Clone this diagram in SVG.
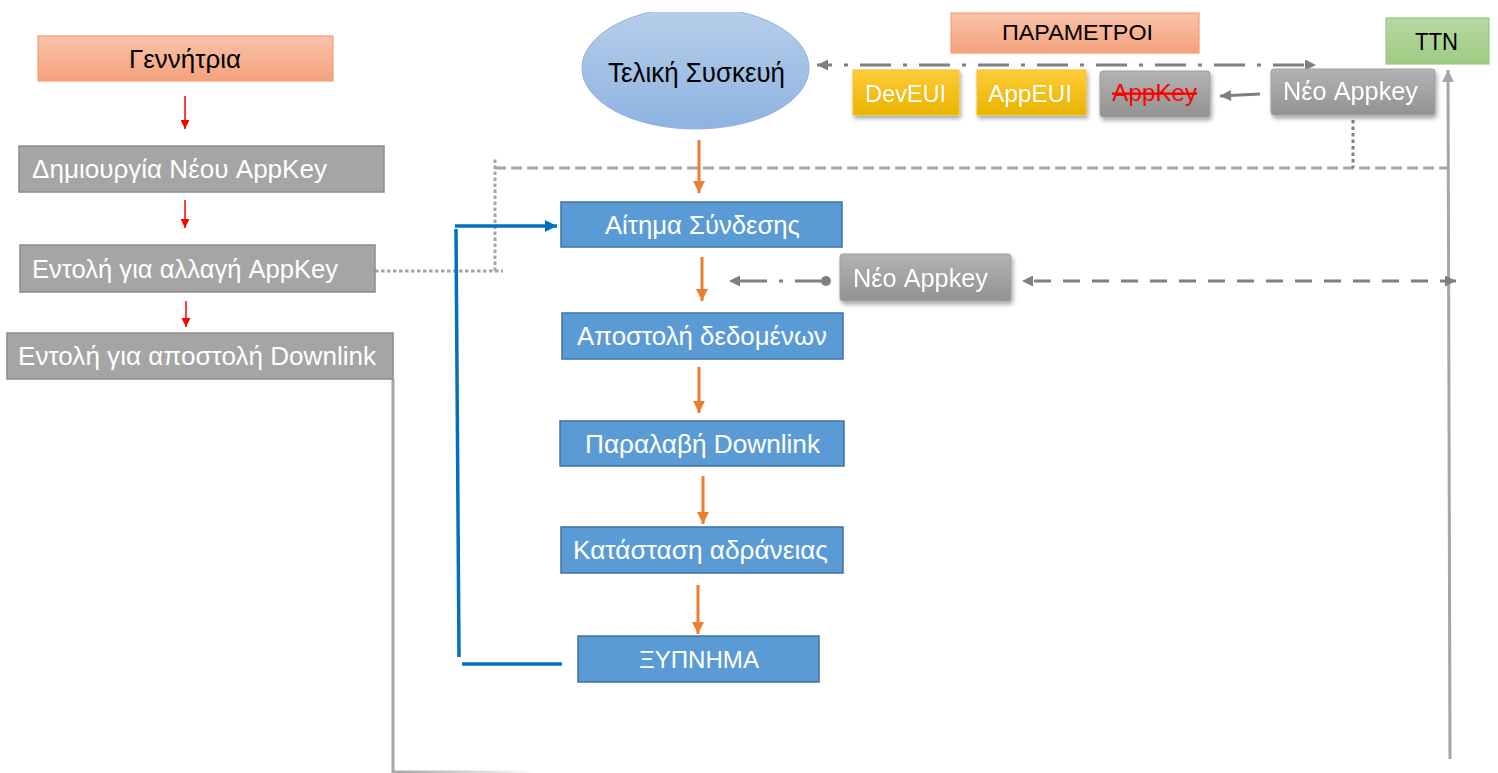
<svg xmlns="http://www.w3.org/2000/svg" width="1498" height="773" viewBox="0 0 1498 773">
  <style>
    .lbl{font-family:"Liberation Sans","Noto Sans",sans-serif;font-size:25px}
    .s22{font-size:22px}
    .s24{font-size:24px}
    .s26{font-size:26px}
    .s27{font-size:27px}
    .w{fill:#ffffff}
    .k{fill:#000000}
    .gflat{fill:#a5a5a5;stroke:#8c8c8c;stroke-width:1.5}
    .blue{fill:#5b9bd5;stroke:#41719c;stroke-width:1.5}
    .salmon{fill:url(#gSalmon);stroke:#f4a072;stroke-width:1.2}
    .yellow{fill:url(#gYellow);stroke:#f2c230;stroke-width:1}
    .gshade{fill:url(#gGray);stroke:#a0a0a0;stroke-width:1}
    .green{fill:url(#gGreen);stroke:#9bc97d;stroke-width:1.2}
    .red{stroke:#ff0000;stroke-width:1.5;fill:none}
    .orange{stroke:#ed7d31;stroke-width:3;fill:none}
    .bl{stroke:#0070c0;stroke-width:3.5;fill:none}
    .lg{stroke:#a6a6a6;stroke-width:3;fill:none}
    .dg{stroke:#7f7f7f;stroke-width:3;fill:none}
  </style>
  <defs>
    <linearGradient id="gSalmon" x1="0" y1="0" x2="0" y2="1">
      <stop offset="0" stop-color="#f8c3aa"/>
      <stop offset="1" stop-color="#f4a17c"/>
    </linearGradient>
    <linearGradient id="gYellow" x1="0" y1="0" x2="0" y2="1">
      <stop offset="0" stop-color="#ffcb38"/>
      <stop offset="1" stop-color="#e8b400"/>
    </linearGradient>
    <linearGradient id="gGray" x1="0" y1="0" x2="0" y2="1">
      <stop offset="0" stop-color="#b3b3b3"/>
      <stop offset="1" stop-color="#929292"/>
    </linearGradient>
    <linearGradient id="gGreen" x1="0" y1="0" x2="0" y2="1">
      <stop offset="0" stop-color="#b7d8a3"/>
      <stop offset="1" stop-color="#9fcb82"/>
    </linearGradient>
    <linearGradient id="gEllipse" x1="0" y1="0" x2="0" y2="1">
      <stop offset="0" stop-color="#b7cfea"/>
      <stop offset="1" stop-color="#8eb3e2"/>
    </linearGradient>
    <linearGradient id="gFade" x1="0" y1="0" x2="1" y2="0">
      <stop offset="0" stop-color="#a6a6a6"/>
      <stop offset="1" stop-color="#ffffff"/>
    </linearGradient>
    <clipPath id="clipTop">
      <rect x="0" y="12" width="1498" height="761"/>
    </clipPath>
    <filter id="shadow" x="-20%" y="-20%" width="150%" height="170%">
      <feDropShadow dx="1.5" dy="3" stdDeviation="2" flood-color="#000" flood-opacity="0.35"/>
    </filter>
    <marker id="aRed" viewBox="0 0 10 10" refX="10" refY="5" markerUnits="userSpaceOnUse" markerWidth="9" markerHeight="9" orient="auto">
      <path d="M0,0 L10,5 L0,10 z" fill="#ff0000"/>
    </marker>
    <marker id="aOrange" viewBox="0 0 10 10" refX="10" refY="5" markerUnits="userSpaceOnUse" markerWidth="12" markerHeight="12" orient="auto">
      <path d="M0,0 L10,5 L0,10 z" fill="#ed7d31"/>
    </marker>
    <marker id="aBlue" viewBox="0 0 10 10" refX="10" refY="5" markerUnits="userSpaceOnUse" markerWidth="13" markerHeight="12" orient="auto">
      <path d="M0,0 L10,5 L0,10 z" fill="#0070c0"/>
    </marker>
    <marker id="aDark" viewBox="0 0 10 10" refX="10" refY="5" markerUnits="userSpaceOnUse" markerWidth="12" markerHeight="11" orient="auto-start-reverse">
      <path d="M0,0 L10,5 L0,10 z" fill="#7f7f7f"/>
    </marker>
    <marker id="aLight" viewBox="0 0 10 10" refX="10" refY="5" markerUnits="userSpaceOnUse" markerWidth="14" markerHeight="12" orient="auto">
      <path d="M0,0 L10,5 L0,10 z" fill="#a6a6a6"/>
    </marker>
    <marker id="dotDark" viewBox="0 0 10 10" refX="5" refY="5" markerUnits="userSpaceOnUse" markerWidth="10" markerHeight="10" orient="auto">
      <circle cx="5" cy="5" r="5" fill="#7f7f7f"/>
    </marker>
  </defs>

  <!-- connectors -->
  <g id="connectors">
    <!-- generator column -->
    <line class="red" x1="185" y1="96" x2="185" y2="129" marker-end="url(#aRed)"/>
    <line class="red" x1="185" y1="200" x2="185" y2="228" marker-end="url(#aRed)"/>
    <line class="red" x1="186" y1="301" x2="186" y2="327" marker-end="url(#aRed)"/>

    <!-- downlink command line down the left side -->
    <path class="lg" d="M393,379 V773"/>
    <rect x="392" y="770.5" width="145" height="2.5" fill="url(#gFade)"/>

    <!-- AppKey change command to the network -->
    <path class="lg" d="M375,271 H503 M495,271 V158" stroke-width="3.5" stroke-dasharray="3.5 2.5"/>
    <path class="lg" d="M495,168 H1448" stroke-dasharray="11 5"/>
    <path class="dg" d="M1353,120 V168" stroke-dasharray="3.5 3"/>

    <!-- TTN uplink -->
    <line class="lg" x1="1450" y1="759" x2="1448" y2="70" stroke-width="3.5" marker-end="url(#aLight)"/>

    <!-- device state flow -->
    <line class="orange" x1="699" y1="140" x2="699" y2="193" marker-end="url(#aOrange)"/>
    <line class="orange" x1="702" y1="257" x2="702" y2="301" marker-end="url(#aOrange)"/>
    <line class="orange" x1="699" y1="367" x2="699" y2="413" marker-end="url(#aOrange)"/>
    <line class="orange" x1="703" y1="476" x2="703" y2="524" marker-end="url(#aOrange)"/>
    <line class="orange" x1="698" y1="585" x2="698" y2="634" marker-end="url(#aOrange)"/>

    <!-- wake-up loop back to join request -->
    <line class="bl" x1="462" y1="664" x2="562" y2="664"/>
    <line class="bl" x1="459" y1="657" x2="456" y2="229"/>
    <line class="bl" x1="455" y1="226" x2="557" y2="226" marker-end="url(#aBlue)"/>

    <!-- parameters exchange -->
    <line class="dg" x1="817" y1="65" x2="1316" y2="65" stroke-dasharray="31 12 4 12" stroke-dashoffset="-43" marker-start="url(#aDark)" marker-end="url(#aDark)"/>
    <line class="dg" x1="1260" y1="94" x2="1220" y2="96" marker-end="url(#aDark)"/>

    <!-- new AppKey delivered to the device -->
    <line class="dg" x1="826" y1="281" x2="729" y2="281" stroke-dasharray="31 12 4 12" marker-start="url(#dotDark)" marker-end="url(#aDark)"/>
    <line class="dg" x1="1022" y1="281" x2="1456" y2="281" stroke-dasharray="17 12" stroke-dashoffset="-12" marker-start="url(#aDark)" marker-end="url(#aDark)"/>
  </g>

  <!-- generator -->
  <g id="generator">
    <rect class="salmon" x="38" y="36" width="295" height="45"/>
    <text class="lbl k" x="129" y="68" textLength="112" lengthAdjust="spacingAndGlyphs">Γεννήτρια</text>
  </g>
  <g id="create-appkey">
    <rect class="gflat" x="19" y="146" width="365" height="46"/>
    <text class="lbl s26 w" x="32" y="178" textLength="295" lengthAdjust="spacingAndGlyphs">Δημιουργία Νέου AppKey</text>
  </g>
  <g id="change-appkey-cmd">
    <rect class="gflat" x="20" y="245" width="355" height="47"/>
    <text class="lbl s26 w" x="32" y="278" textLength="306" lengthAdjust="spacingAndGlyphs">Εντολή για αλλαγή AppKey</text>
  </g>
  <g id="downlink-cmd">
    <rect class="gflat" x="7" y="333" width="386" height="46"/>
    <text class="lbl s26 w" x="18" y="365" textLength="358" lengthAdjust="spacingAndGlyphs">Εντολή για αποστολή Downlink</text>
  </g>

  <!-- end device -->
  <g id="end-device">
    <ellipse cx="695.5" cy="68" rx="113.5" ry="61" fill="url(#gEllipse)" stroke="#8fb0dc" stroke-width="1" clip-path="url(#clipTop)"/>
    <text class="lbl s27 k" x="608" y="82" textLength="177" lengthAdjust="spacingAndGlyphs">Τελική Συσκευή</text>
  </g>

  <!-- parameters -->
  <g id="parameters">
    <rect class="salmon" x="951" y="13" width="248" height="40"/>
    <text class="lbl s22 k" x="1002" y="40" textLength="151" lengthAdjust="spacingAndGlyphs">ΠΑΡΑΜΕΤΡΟΙ</text>
  </g>
  <g id="deveui" filter="url(#shadow)">
    <rect class="yellow" x="853" y="70" width="106" height="45"/>
    <text class="lbl s24 w" x="865" y="102" textLength="81" lengthAdjust="spacingAndGlyphs">DevEUI</text>
  </g>
  <g id="appeui" filter="url(#shadow)">
    <rect class="yellow" x="977" y="70" width="109" height="45"/>
    <text class="lbl s24 w" x="988" y="102" textLength="84" lengthAdjust="spacingAndGlyphs">AppEUI</text>
  </g>
  <g id="old-appkey" filter="url(#shadow)">
    <rect class="gshade" x="1100" y="71" width="110" height="46" rx="3"/>
    <text class="lbl s24" x="1112" y="101" fill="#ff0000" text-decoration="line-through" textLength="85" lengthAdjust="spacingAndGlyphs">AppKey</text>
  </g>
  <g id="new-appkey-server" filter="url(#shadow)">
    <rect class="gshade" x="1271" y="69" width="164" height="46" rx="3"/>
    <text class="lbl w" x="1283" y="100" textLength="135" lengthAdjust="spacingAndGlyphs">Νέο Appkey</text>
  </g>

  <!-- network server -->
  <g id="ttn">
    <rect class="green" x="1386" y="18" width="103" height="46"/>
    <text class="lbl s24 k" x="1415" y="50" textLength="43" lengthAdjust="spacingAndGlyphs">TTN</text>
  </g>

  <!-- device states -->
  <g id="join-request">
    <rect class="blue" x="561" y="202" width="281" height="45"/>
    <text class="lbl w" x="605" y="234" textLength="195" lengthAdjust="spacingAndGlyphs">Αίτημα Σύνδεσης</text>
  </g>
  <g id="new-appkey-device" filter="url(#shadow)">
    <rect class="gshade" x="840" y="254" width="171" height="47" rx="3"/>
    <text class="lbl w" x="853" y="287" textLength="135" lengthAdjust="spacingAndGlyphs">Νέο Appkey</text>
  </g>
  <g id="send-data">
    <rect class="blue" x="562" y="313" width="281" height="46"/>
    <text class="lbl w" x="577" y="345" textLength="250" lengthAdjust="spacingAndGlyphs">Αποστολή δεδομένων</text>
  </g>
  <g id="receive-downlink">
    <rect class="blue" x="560" y="421" width="284" height="45"/>
    <text class="lbl w" x="585" y="453" textLength="235" lengthAdjust="spacingAndGlyphs">Παραλαβή Downlink</text>
  </g>
  <g id="sleep">
    <rect class="blue" x="561" y="527" width="282" height="46"/>
    <text class="lbl w" x="573" y="559" textLength="255" lengthAdjust="spacingAndGlyphs">Κατάσταση αδράνειας</text>
  </g>
  <g id="wake-up">
    <rect class="blue" x="578" y="636" width="241" height="46"/>
    <text class="lbl s24 w" x="639" y="668" textLength="120" lengthAdjust="spacingAndGlyphs">ΞΥΠΝΗΜΑ</text>
  </g>
</svg>
